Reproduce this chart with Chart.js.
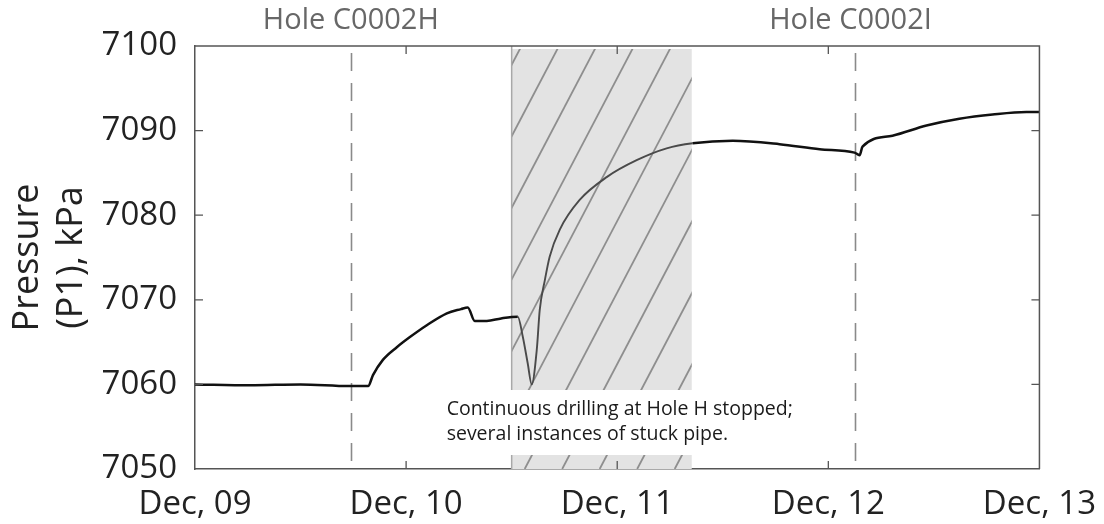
<!DOCTYPE html>
<html>
<head>
<meta charset="utf-8">
<script src="https://cdn.jsdelivr.net/npm/chart.js@4.4.1/dist/chart.umd.min.js"></script>
<style>
  html, body { margin: 0; padding: 0; background: #ffffff; }
  #wrap { width: 1104px; height: 524px; position: relative; }
</style>
</head>
<body>
<div id="wrap"><canvas id="c" width="1104" height="524"></canvas></div>
<script>
// ---- data (days since Dec 09, 00:00) ----
const dayTickLabels = ['Dec, 09', 'Dec, 10', 'Dec, 11', 'Dec, 12', 'Dec, 13'];
const days = [0, 0.26, 0.5, 0.73, 0.82, 0.843, 0.89, 0.956, 1.018, 1.098, 1.193, 1.26, 1.292, 1.325, 1.382, 1.45, 1.529, 1.553, 1.576, 1.595, 1.619, 1.633, 1.657, 1.68, 1.728, 1.822, 1.95, 2.092, 2.234, 2.357, 2.547, 2.769, 2.959, 3.124, 3.148, 3.162, 3.304, 3.465, 3.621, 3.778, 3.938, 4.0];
const pressure = [7060.0, 7059.9, 7060.0, 7059.8, 7059.8, 7061.1, 7062.9, 7064.4, 7065.6, 7067.0, 7068.4, 7068.9, 7069.1, 7067.5, 7067.5, 7067.8, 7068.0, 7065.6, 7062.5, 7060.0, 7064.1, 7068.8, 7072.3, 7075.1, 7078.3, 7081.8, 7084.5, 7086.5, 7087.9, 7088.5, 7088.8, 7088.4, 7087.8, 7087.4, 7087.1, 7088.1, 7089.4, 7090.6, 7091.4, 7091.9, 7092.2, 7092.2];
const holeLabels = ['Hole C0002H', 'Hole C0002I'];
const holeDays = [0.738, 3.124];
const stuckPeriod = [1.50, 2.353];
const noteLines = ['Continuous drilling at Hole H stopped;', 'several instances of stuck pipe.'];
const yTicks = [7050, 7060, 7070, 7080, 7090, 7100];

const AXIS = '#555555';
const FONT = "'Open Sans', 'Noto Sans', sans-serif";

const decor = {
  id: 'decor',
  beforeDatasetsDraw(chart) {
    const { ctx, chartArea: a, scales: { x, y } } = chart;
    const x0 = x.getPixelForValue(stuckPeriod[0]);
    const x1 = x.getPixelForValue(stuckPeriod[1]);
    const gapTop = 390, gapBot = 455;
    ctx.save();
    ctx.fillStyle = '#e3e3e3';
    ctx.fillRect(x0, a.top + 3, x1 - x0, gapTop - a.top - 3);
    ctx.fillRect(x0, gapBot, x1 - x0, a.bottom - gapBot);
    ctx.save();
    ctx.beginPath();
    ctx.rect(x0, a.top + 3, x1 - x0, gapTop - a.top - 3);
    ctx.rect(x0, gapBot, x1 - x0, a.bottom - gapBot);
    ctx.clip();
    ctx.strokeStyle = '#8e8e8e';
    ctx.lineWidth = 1.8;
    const slope = 1.907;
    const refX = x0 + 18, refY = gapTop - 2;
    for (let k = -8; k <= 14; k++) {
      const bx = refX + k * 37.5;
      ctx.beginPath();
      ctx.moveTo(bx - (a.bottom - refY) / slope, a.bottom);
      ctx.lineTo(bx + (refY - a.top) / slope, a.top);
      ctx.stroke();
    }
    ctx.restore();
    ctx.strokeStyle = '#a8a8a8';
    ctx.lineWidth = 1.5;
    ctx.beginPath();
    ctx.moveTo(x0, a.top); ctx.lineTo(x0, gapTop);
    ctx.moveTo(x0, gapBot); ctx.lineTo(x0, a.bottom);
    ctx.stroke();
    ctx.strokeStyle = '#8a8a8a';
    ctx.lineWidth = 1.6;
    ctx.setLineDash([18, 12]);
    holeDays.forEach(d => {
      const px = Math.round(x.getPixelForValue(d)) + 0.5;
      ctx.beginPath();
      ctx.moveTo(px, a.top + 7);
      ctx.lineTo(px, a.bottom);
      ctx.stroke();
    });
    ctx.setLineDash([]);
    ctx.restore();
  },
  afterDatasetsDraw(chart) {
    const { ctx, chartArea: a, scales: { x, y } } = chart;
    ctx.save();
    ctx.strokeStyle = AXIS;
    ctx.lineWidth = 1.5;
    ctx.beginPath();
    ctx.moveTo(a.left, a.top); ctx.lineTo(a.right, a.top); ctx.lineTo(a.right, a.bottom);
    ctx.stroke();
    ctx.lineWidth = 1.3;
    ctx.beginPath();
    for (let d = 1; d < dayTickLabels.length - 1; d++) {
      const px = x.getPixelForValue(d);
      ctx.moveTo(px, a.bottom); ctx.lineTo(px, a.bottom - 8);
      ctx.moveTo(px, a.top); ctx.lineTo(px, a.top + 8);
    }
    yTicks.slice(1, -1).forEach(v => {
      const py = y.getPixelForValue(v);
      ctx.moveTo(a.left, py); ctx.lineTo(a.left + 8, py);
      ctx.moveTo(a.right, py); ctx.lineTo(a.right - 8, py);
    });
    ctx.stroke();
    ctx.fillStyle = '#676767';
    ctx.font = "29px " + FONT;
    ctx.textAlign = 'center';
    ctx.textBaseline = 'middle';
    holeLabels.forEach((t, i) => {
      ctx.fillText(t, x.getPixelForValue(holeDays[i]) - (i ? 4 : 0), 21);
    });
    ctx.fillStyle = '#1a1a1a';
    ctx.font = "19.5px " + FONT;
    ctx.textAlign = 'left';
    const nx = x.getPixelForValue(1.192);
    ctx.fillText(noteLines[0], nx, 409);
    ctx.fillText(noteLines[1], nx, 434);
    ctx.restore();
  }
};

new Chart(document.getElementById('c'), {
  type: 'line',
  data: {
    datasets: [{
      data: days.map((d, i) => ({ x: d, y: pressure[i] })),
      borderColor: '#111111',
      borderWidth: 2.5,
      pointRadius: 0,
      cubicInterpolationMode: 'monotone',
      segment: {
        borderColor: c => (c.p0.parsed.x >= stuckPeriod[0] && c.p1.parsed.x <= stuckPeriod[1] + 0.01) ? '#4a4a4a' : undefined,
        borderWidth: c => (c.p0.parsed.x >= stuckPeriod[0] && c.p1.parsed.x <= stuckPeriod[1] + 0.01) ? 1.9 : undefined
      }
    }]
  },
  options: {
    responsive: false,
    animation: false,
    devicePixelRatio: 1,
    layout: { padding: { left: 0, right: 64, top: 46, bottom: 0 } },
    plugins: { legend: { display: false }, tooltip: { enabled: false } },
    scales: {
      x: {
        type: 'linear', min: 0, max: 4,
        afterFit: s => { s.height = 55; },
        grid: { display: false },
        border: { display: true, color: AXIS, width: 1.5 },
        ticks: {
          stepSize: 1, padding: 8, color: '#222222', maxRotation: 0,
          font: { family: FONT, size: 33 },
          callback: v => dayTickLabels[v] ?? ''
        }
      },
      y: {
        min: 7050, max: 7100,
        afterFit: s => { s.width = 195; },
        grid: { display: false },
        border: { display: true, color: AXIS, width: 1.5 },
        ticks: {
          stepSize: 10, padding: 10, color: '#222222',
          font: { family: FONT, size: 33 },
          callback: v => yTicks.includes(v) ? String(v) : ''
        },
        title: {
          display: true,
          text: ['Pressure', '(P1), kPa'],
          color: '#222222',
          font: { family: FONT, size: 36, lineHeight: 1.22 },
          padding: { top: 6, bottom: 0 }
        }
      }
    }
  },
  plugins: [decor]
});
</script>
</body>
</html>
